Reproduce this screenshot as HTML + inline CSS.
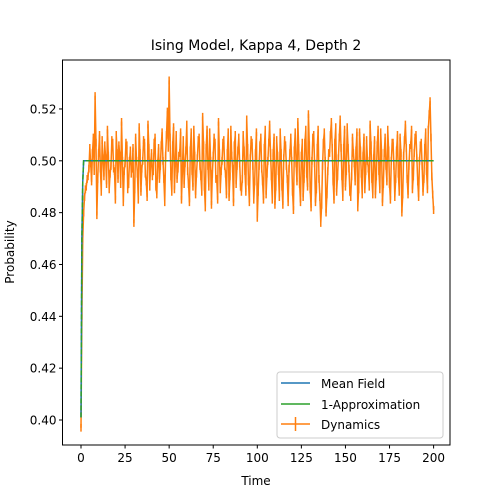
<!DOCTYPE html>
<html><head><meta charset="utf-8"><style>
html,body{margin:0;padding:0;background:#fff;}
svg{display:block;font-family:"DejaVu Sans","Liberation Sans",sans-serif;}
</style></head><body>
<svg id="chart" width="500" height="500" viewBox="0 0 500 500">
<rect x="0" y="0" width="500" height="500" fill="#fff"/>
<text x="256" y="50" font-size="14" text-anchor="middle">Ising Model, Kappa 4, Depth 2</text>
<g id="plot"></g>
<g id="axes"></g>
<text x="256" y="485" font-size="12" text-anchor="middle">Time</text>
<text transform="translate(14,252) rotate(-90)" font-size="12" text-anchor="middle">Probability</text>
<g>
<rect x="277" y="372" width="166" height="66" rx="3" fill="#fff" fill-opacity="0.8" stroke="#ccc"/>
<line x1="281" y1="383" x2="310" y2="383" stroke="#1f77b4" stroke-width="1.5"/>
<text x="321" y="388" font-size="12">Mean Field</text>
<line x1="281" y1="404" x2="310" y2="404" stroke="#2ca02c" stroke-width="1.5"/>
<text x="321" y="409" font-size="12">1-Approximation</text>
<line x1="281" y1="424" x2="310" y2="424" stroke="#ff7f0e" stroke-width="1.5"/>
<line x1="295.5" y1="417" x2="295.5" y2="431" stroke="#ff7f0e" stroke-width="1.5"/>
<text x="321" y="429" font-size="12">Dynamics</text>
</g>
</svg>
<script>
const xTicks=[0,25,50,75,100,125,150,175,200];
const yTicks=[0.40,0.42,0.44,0.46,0.48,0.50,0.52];
const yTickLabels=["0.40","0.42","0.44","0.46","0.48","0.50","0.52"];
const timeStep=0.5;
const meanField=[0.401,0.470,0.492,0.5];
const approx1=[0.401,0.470,0.492,0.5];
const dynamics=[0.397,0.440,0.470,0.480,0.486,0.489,0.490,0.493,0.494,0.497,
.505,.499,.492,.503,.509,.496,.525,.507,.479,.493,.503,.510,.497,.488,.508,.501,.494,.506,.501,.491,
.512,.502,.489,.495,.498,.508,.507,.497,.496,.485,.510,.503,.493,.506,.502,.491,.515,.500,.484,.496,
.499,.507,.506,.489,.491,.500,.504,.495,.497,.505,.476,.489,.509,.500,.495,.485,.513,.503,.488,.497,
.500,.508,.507,.495,.492,.486,.514,.505,.490,.499,.503,.494,.496,.507,.509,.490,.487,.499,.505,.493,
.498,.506,.511,.500,.493,.484,.502,.510,.519,.505,.531,.509,.494,.488,.506,.513,.489,.499,.510,.493,
.497,.502,.503,.511,.485,.496,.508,.491,.499,.504,.514,.496,.491,.484,.504,.511,.496,.490,.512,.502,
.487,.495,.501,.508,.509,.498,.494,.488,.517,.506,.490,.482,.505,.512,.498,.490,.511,.500,.483,.495,
.502,.509,.507,.493,.493,.485,.515,.503,.489,.496,.500,.507,.508,.498,.495,.487,.503,.511,.486,.494,
.512,.502,.497,.484,.506,.510,.491,.498,.504,.509,.499,.490,.488,.493,.510,.504,.496,.488,.516,.505,
.492,.484,.501,.508,.507,.498,.485,.492,.503,.511,.478,.488,.498,.506,.509,.497,.492,.485,.505,.512,
.487,.495,.500,.507,.514,.503,.494,.485,.503,.509,.483,.490,.508,.502,.496,.486,.511,.503,.490,.483,
.501,.508,.506,.498,.493,.484,.497,.503,.509,.500,.488,.481,.504,.511,.499,.492,.515,.505,.491,.484,
.502,.507,.486,.493,.507,.512,.495,.490,.518,.506,.489,.482,.500,.509,.510,.499,.484,.489,.505,.512,
.493,.486,.476,.483,.498,.507,.511,.500,.480,.487,.496,.503,.503,.510,.515,.505,.492,.485,.507,.513,
.488,.494,.501,.509,.516,.505,.494,.486,.505,.512,.490,.496,.513,.505,.497,.488,.486,.494,.509,.503,
.499,.492,.504,.511,.482,.489,.511,.504,.495,.487,.502,.509,.489,.496,.508,.500,.497,.490,.514,.506,
.493,.487,.501,.508,.487,.494,.506,.512,.496,.489,.511,.503,.484,.491,.503,.509,.498,.492,.512,.504,
.491,.485,.500,.507,.507,.498,.486,.493,.504,.510,.495,.488,.509,.503,.480,.487,.502,.508,.514,.505,
.493,.487,.498,.505,.506,.512,.489,.494,.503,.509,.510,.501,.492,.486,.500,.506,.507,.498,.488,.493,
.505,.511,.496,.489,.512,.518,.523,.509,.494,.487,.481];
const dynErr=0.0015;
const NS='http://www.w3.org/2000/svg';
const L=62.5,R=450,T=60,B=445;
function xs(t){return 81+t*1.763;}
function ys(v){return 420-(v-0.40)*2592;}
const plot=document.getElementById('plot'),axes=document.getElementById('axes');
function mk(tag,attrs,parent){const e=document.createElementNS(NS,tag);for(const k in attrs)e.setAttribute(k,attrs[k]);parent.appendChild(e);return e;}
const n=dynamics.length;
function series(arr){const pts=[];for(let i=0;i<n;i++){const v=i<arr.length-1?arr[i]:arr[arr.length-1];pts.push(xs(i*timeStep).toFixed(2)+','+ys(v).toFixed(2));}return pts.join(' ');}
let d='';
for(let i=0;i<n;i++){d+='M'+xs(i*timeStep).toFixed(2)+','+ys(dynamics[i]-dynErr).toFixed(2)+'V'+ys(dynamics[i]+dynErr).toFixed(2);}
const eb=mk('path',{d:d,stroke:'#ff7f0e','stroke-width':1.5,fill:'none'},plot);


const pts=dynamics.map((v,i)=>xs(i*timeStep).toFixed(2)+','+ys(v).toFixed(2)).join(' ');
const dl=mk('polyline',{points:pts,stroke:'#ff7f0e','stroke-width':1.5,fill:'none','stroke-linejoin':'round'},plot);


const mf=mk('polyline',{points:series(meanField),stroke:'#1f77b4','stroke-width':1.5,fill:'none'},plot);


const ap=mk('polyline',{points:series(approx1),stroke:'#2ca02c','stroke-width':1.5,fill:'none','stroke-dasharray':'5 2'},plot);


const fr=mk('rect',{x:L,y:T,width:R-L,height:B-T,fill:'none',stroke:'#000','stroke-width':1},axes);


xTicks.forEach(t=>{const x=xs(t);
mk('line',{x1:x,y1:B,x2:x,y2:B+3.5,stroke:'#000'},axes);
const tx=mk('text',{x:x,y:B+17,'font-size':12,'text-anchor':'middle'},axes);tx.textContent=t;

});
yTicks.forEach((v,i)=>{const y=ys(v);
mk('line',{x1:L-3.5,y1:y,x2:L,y2:y,stroke:'#000'},axes);
const tx=mk('text',{x:L-6,y:y+4.5,'font-size':12,'text-anchor':'end'},axes);tx.textContent=yTickLabels[i];

});
</script>
</body></html>
